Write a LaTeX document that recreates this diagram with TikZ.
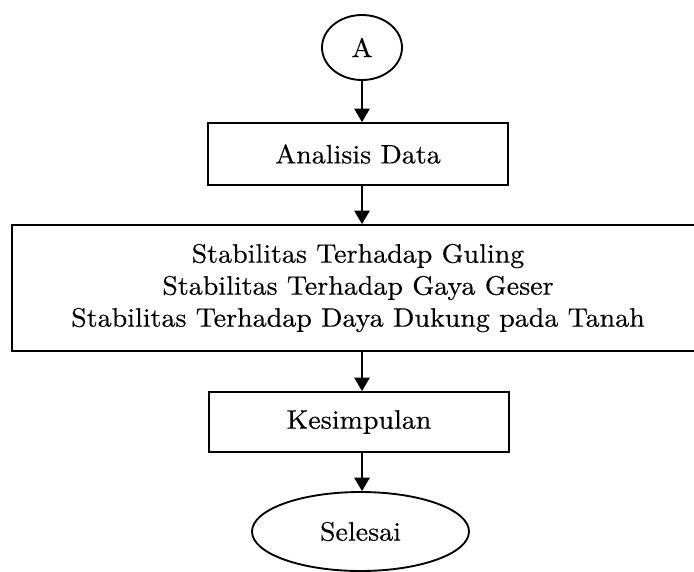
\documentclass[tikz,border=0pt]{standalone}
\usepackage{fontspec}
\setmainfont{lmroman10-regular.otf}[FakeStretch=1.05,FakeBold=0.35]
\usetikzlibrary{shapes.geometric,arrows.meta}
\begin{document}
\begin{tikzpicture}[x=0.75pt,y=-0.75pt,
  txt/.style={font=\fontsize{20}{24}\selectfont, align=center},
  box/.style={txt, draw, line width=1.4pt, rectangle, inner sep=0pt},
  oval/.style={txt, draw, line width=1.4pt, ellipse, inner sep=0pt},
  arr/.style={line width=0.9pt, -{Triangle[length=10pt,width=11.5pt]}}]
\useasboundingbox (0,0) rectangle (694,572);
\clip (0,0) rectangle (694,572);
\node[oval, minimum width=60pt, minimum height=48.75pt] (A) at (362,47.5) {A};
\node[box, minimum width=225pt, minimum height=46.5pt] (ana) at (358,154) {Analisis Data};
\node[box, minimum width=519pt, minimum height=94.5pt] (big) at (358,288)
  {Stabilitas Terhadap Guling\\Stabilitas Terhadap Gaya Geser\\Stabilitas Terhadap Daya Dukung pada Tanah};
\node[box, minimum width=225pt, minimum height=45pt] (kes) at (359,422) {Kesimpulan};
\node[oval, minimum width=162.75pt, minimum height=59.25pt] (sel) at (360.5,531.5) {Selesai};
\draw[arr] (A.south) -- (A.south |- ana.north);
\draw[arr] (A.south |- ana.south) -- (A.south |- big.north);
\draw[arr] (A.south |- big.south) -- (A.south |- kes.north);
\draw[arr] (A.south |- kes.south) -- (A.south |- sel.north);
\end{tikzpicture}
\end{document}
